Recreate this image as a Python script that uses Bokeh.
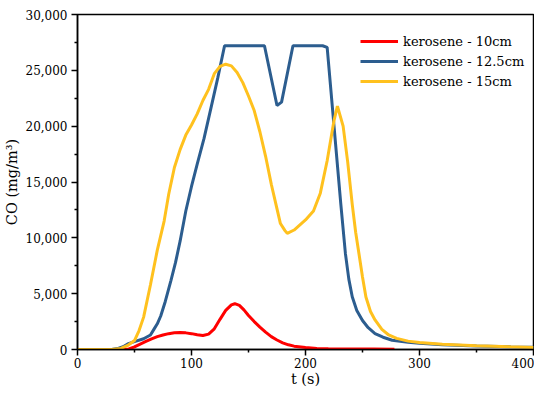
from bokeh.plotting import figure
from bokeh.models import Range1d, FixedTicker, NumeralTickFormatter
from bokeh.embed import file_html
from bokeh.resources import INLINE

# ---- data ----
t_red = [0, 40, 45, 50, 55, 60, 65, 70, 75, 80, 85, 90, 95, 100, 105, 110, 115, 120,
         125, 130, 135, 138, 142, 146, 150, 155, 160, 165, 170, 175, 180, 185, 190,
         200, 210, 220, 240, 260, 278]
co_red = [0, 0, 50, 230, 480, 720, 950, 1150, 1300, 1420, 1500, 1520, 1490, 1420, 1320,
          1250, 1380, 1850, 2700, 3500, 4000, 4100, 3950, 3550, 3050, 2500, 2000, 1550,
          1150, 850, 600, 420, 300, 170, 100, 70, 50, 40, 30]

t_blue = [0, 30, 35, 40, 44, 50, 58, 64, 67, 70, 73, 77, 82, 86, 90, 95, 100, 105, 111,
          117, 123, 129, 164, 175, 179, 189, 215, 219, 231, 235, 238, 241, 245, 250, 255,
          261, 268, 276, 290, 300, 320, 350, 380, 400]
co_blue = [0, 0, 80, 250, 500, 700, 960, 1300, 1800, 2300, 3000, 4300, 6200, 7800, 9700,
           12400, 14600, 16600, 18900, 21600, 24300, 27200, 27200, 21850, 22150, 27200,
           27200, 27050, 13000, 8600, 6300, 4720, 3500, 2600, 1950, 1430, 1100, 830, 650,
           550, 430, 320, 240, 200]

t_yel = [0, 30, 38, 44, 50, 54, 58, 64, 70, 76, 80, 85, 90, 95, 100, 105, 110, 115, 120,
         125, 130, 135, 140, 145, 150, 155, 160, 165, 170, 175, 178, 182, 184, 190, 200,
         207, 213, 219, 225, 228, 233, 237, 241, 244, 247, 250, 253, 257, 261, 267, 273,
         280, 290, 300, 320, 350, 380, 400]
co_yel = [0, 0, 100, 360, 800, 1700, 2900, 5800, 8900, 11500, 13900, 16300, 17900, 19200,
          20100, 21100, 22300, 23300, 24700, 25350, 25550, 25400, 24800, 23900, 22700,
          21400, 19500, 17300, 14800, 12600, 11280, 10650, 10400, 10700, 11600, 12400,
          14000, 16900, 20500, 21800, 20000, 16800, 13000, 10500, 8500, 6500, 4700, 3400,
          2650, 1800, 1300, 1000, 750, 620, 480, 340, 240, 180]

series_labels = ["kerosene - 10cm", "kerosene - 12.5cm", "kerosene - 15cm"]
series_colors = ["#FF0000", "#2C5D8F", "#FFC11E"]

x_ticks = [0, 100, 200, 300, 400]
x_minor = [50, 150, 250, 350]
y_ticks = [0, 5000, 10000, 15000, 20000, 25000, 30000]
y_minor = [2500, 7500, 12500, 17500, 22500, 27500]

FONT = "DejaVu Serif"

p = figure(width=534, height=390, output_backend="svg", toolbar_location=None,
           x_range=Range1d(0, 400), y_range=Range1d(0, 30000),
           min_border_left=77, min_border_right=1, min_border_top=14, min_border_bottom=41,
           background_fill_color="white", border_fill_color="white")

p.grid.visible = False
p.outline_line_color = "black"
p.outline_line_width = 1.5
p.outline_line_alpha = 1.0

for tt, vv, lab, col in [(t_red, co_red, series_labels[0], series_colors[0]),
                         (t_blue, co_blue, series_labels[1], series_colors[1]),
                         (t_yel, co_yel, series_labels[2], series_colors[2])]:
    p.line(tt, vv, line_color=col, line_width=3, legend_label=lab)

p.xaxis.ticker = FixedTicker(ticks=x_ticks, minor_ticks=x_minor)
p.yaxis.ticker = FixedTicker(ticks=y_ticks, minor_ticks=y_minor)
p.yaxis.formatter = NumeralTickFormatter(format="0,0")

for ax in (p.xaxis[0], p.yaxis[0]):
    ax.axis_line_color = "black"
    ax.axis_line_width = 1.5
    ax.major_tick_line_color = "black"
    ax.major_tick_line_width = 1.5
    ax.minor_tick_line_color = "black"
    ax.minor_tick_line_width = 1.5
    ax.major_tick_in = 0
    ax.major_tick_out = 6
    ax.minor_tick_in = 0
    ax.minor_tick_out = 3
    ax.major_label_text_font = FONT
    ax.major_label_text_font_size = "12px"
    ax.major_label_text_color = "black"
    ax.axis_label_text_font = FONT
    ax.axis_label_text_font_size = "14.5px"
    ax.axis_label_text_font_style = "normal"
    ax.axis_label_text_color = "black"

p.xaxis.axis_label = "t (s)"
p.yaxis.axis_label = "CO (mg/m\u00b3)"
p.xaxis.major_label_standoff = 2
p.xaxis.axis_label_standoff = 0
p.yaxis.major_label_standoff = 4
p.yaxis.axis_label_standoff = 3

lg = p.legend[0]
lg.location = (283, 258)
lg.glyph_width = 38
lg.glyph_height = 20
lg.label_height = 20
lg.spacing = 0
lg.padding = 0
lg.margin = 0
lg.border_line_color = None
lg.background_fill_alpha = 0
lg.label_standoff = 5
lg.label_text_font = FONT
lg.label_text_font_size = "13px"
lg.label_text_color = "black"

open("out.html", "w").write(file_html(p, INLINE))
